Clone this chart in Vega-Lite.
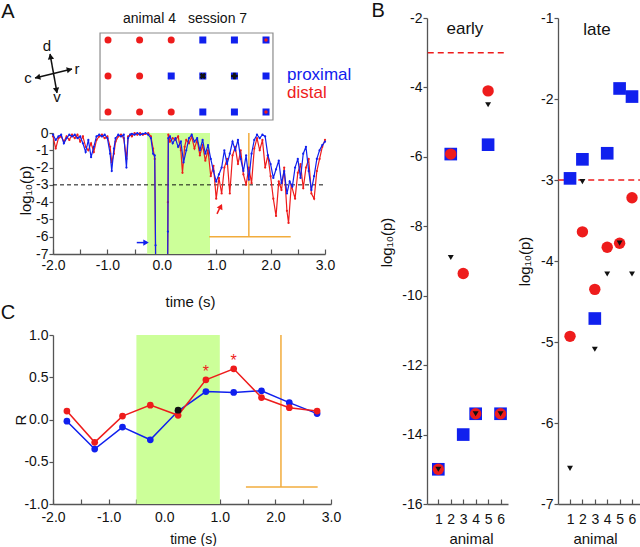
{
"$schema":"https://vega.github.io/schema/vega-lite/v6.json",
"padding":0,
"spacing":0,
"config":{"font":"Liberation Sans","view":{"stroke":null},
 "axis":{"labelFontSize":14,"titleFontSize":15,"titleFontWeight":"normal","domainColor":"#555","tickColor":"#555","labelColor":"#111","titleColor":"#111","grid":false,"domainWidth":1.3,"tickWidth":1.2,"labelFont":"Liberation Sans","titleFont":"Liberation Sans"},
 "text":{"font":"Liberation Sans"}},
"datasets":{
 "gridCircle":[{"x":1,"y":1},{"x":2,"y":1},{"x":3,"y":1},{"x":1,"y":2},{"x":2,"y":2},{"x":1,"y":3},{"x":2,"y":3},{"x":3,"y":3}],
 "gridSquare":[{"x":4,"y":1},{"x":5,"y":1},{"x":6,"y":1},{"x":3,"y":2},{"x":4,"y":2},{"x":5,"y":2},{"x":6,"y":2},{"x":4,"y":3},{"x":5,"y":3},{"x":6,"y":3}],
 "gridDot":[{"x":6,"y":1},{"x":6,"y":3}],
 "tsr":[{"t":-2.00,"v":-0.2},{"t":-1.95,"v":-0.9},{"t":-1.90,"v":-0.3},{"t":-1.85,"v":-0.2},{"t":-1.80,"v":-0.5},{"t":-1.75,"v":-0.2},{"t":-1.70,"v":-0.4},{"t":-1.65,"v":-0.1},{"t":-1.60,"v":-0.3},{"t":-1.55,"v":-0.1},{"t":-1.50,"v":-0.5},{"t":-1.45,"v":-0.2},{"t":-1.40,"v":-0.8},{"t":-1.35,"v":-1.0},{"t":-1.30,"v":-0.6},{"t":-1.25,"v":-1.1},{"t":-1.20,"v":-0.4},{"t":-1.15,"v":-0.2},{"t":-1.10,"v":-0.1},{"t":-1.05,"v":-0.3},{"t":-1.00,"v":-0.2},{"t":-0.95,"v":-0.8},{"t":-0.92,"v":-1.7},{"t":-0.88,"v":-1.2},{"t":-0.85,"v":-0.5},{"t":-0.80,"v":-0.2},{"t":-0.75,"v":-0.1},{"t":-0.70,"v":-0.3},{"t":-0.65,"v":-1.5},{"t":-0.62,"v":-0.2},{"t":-0.58,"v":-0.1},{"t":-0.55,"v":-0.2},{"t":-0.50,"v":0},{"t":-0.45,"v":-0.1},{"t":-0.40,"v":0},{"t":-0.35,"v":-0.1},{"t":-0.30,"v":-0.05},{"t":-0.25,"v":0},{"t":-0.20,"v":-0.2},{"t":-0.16,"v":-0.9},{"t":-0.13,"v":-1.5},{"t":-0.11,"v":-9},{"t":0.105,"v":-9},{"t":0.112,"v":-4.0},{"t":0.12,"v":-0.1},{"t":0.15,"v":-0.5},{"t":0.20,"v":-0.3},{"t":0.25,"v":-0.4},{"t":0.30,"v":-0.2},{"t":0.35,"v":-1.0},{"t":0.38,"v":-2.3},{"t":0.42,"v":-0.8},{"t":0.45,"v":-0.4},{"t":0.50,"v":-0.6},{"t":0.55,"v":-0.2},{"t":0.60,"v":-0.9},{"t":0.65,"v":-0.4},{"t":0.70,"v":-1.3},{"t":0.75,"v":-0.7},{"t":0.80,"v":-1.6},{"t":0.85,"v":-1.0},{"t":0.90,"v":-2.5},{"t":0.95,"v":-1.9},{"t":1.00,"v":-3.8},{"t":1.05,"v":-2.6},{"t":1.10,"v":-3.5},{"t":1.15,"v":-2.0},{"t":1.20,"v":-1.5},{"t":1.25,"v":-3.5},{"t":1.30,"v":-1.3},{"t":1.35,"v":-0.8},{"t":1.40,"v":-1.8},{"t":1.45,"v":-1.0},{"t":1.50,"v":-2.4},{"t":1.55,"v":-3.0},{"t":1.60,"v":-2.0},{"t":1.65,"v":-2.9},{"t":1.70,"v":-0.9},{"t":1.75,"v":-0.3},{"t":1.80,"v":-1.0},{"t":1.85,"v":-0.4},{"t":1.90,"v":-2.0},{"t":1.95,"v":-1.3},{"t":2.00,"v":-2.5},{"t":2.05,"v":-3.8},{"t":2.10,"v":-4.8},{"t":2.15,"v":-2.8},{"t":2.20,"v":-3.3},{"t":2.25,"v":-2.0},{"t":2.30,"v":-4.5},{"t":2.33,"v":-5.2},{"t":2.38,"v":-3.0},{"t":2.45,"v":-3.8},{"t":2.50,"v":-2.3},{"t":2.55,"v":-1.8},{"t":2.60,"v":-3.2},{"t":2.65,"v":-2.0},{"t":2.70,"v":-1.5},{"t":2.75,"v":-3.5},{"t":2.80,"v":-3.8},{"t":2.85,"v":-2.2},{"t":2.90,"v":-1.5},{"t":2.95,"v":-0.8},{"t":3.00,"v":-0.4}],
 "tsb":[{"t":-2.00,"v":-0.1},{"t":-1.95,"v":-0.4},{"t":-1.90,"v":-0.2},{"t":-1.85,"v":-0.1},{"t":-1.80,"v":-0.6},{"t":-1.75,"v":-0.3},{"t":-1.70,"v":-0.1},{"t":-1.65,"v":-0.2},{"t":-1.60,"v":-0.1},{"t":-1.55,"v":-0.3},{"t":-1.50,"v":-0.2},{"t":-1.45,"v":-0.6},{"t":-1.40,"v":-1.1},{"t":-1.35,"v":-0.4},{"t":-1.30,"v":-1.4},{"t":-1.25,"v":-0.8},{"t":-1.20,"v":-0.2},{"t":-1.15,"v":-0.1},{"t":-1.10,"v":-0.2},{"t":-1.05,"v":-0.1},{"t":-1.00,"v":-0.3},{"t":-0.95,"v":-1.2},{"t":-0.92,"v":-2.2},{"t":-0.88,"v":-0.9},{"t":-0.85,"v":-0.3},{"t":-0.80,"v":-0.1},{"t":-0.75,"v":-0.2},{"t":-0.70,"v":-0.1},{"t":-0.65,"v":-2.0},{"t":-0.62,"v":-0.3},{"t":-0.58,"v":-0.1},{"t":-0.55,"v":-0.05},{"t":-0.50,"v":-0.1},{"t":-0.45,"v":0},{"t":-0.40,"v":-0.1},{"t":-0.35,"v":-0.05},{"t":-0.30,"v":0},{"t":-0.25,"v":-0.1},{"t":-0.20,"v":-0.3},{"t":-0.16,"v":-1.2},{"t":-0.13,"v":-1.3},{"t":-0.115,"v":-6.5},{"t":-0.11,"v":-9},{"t":0.105,"v":-9},{"t":0.112,"v":-5.7},{"t":0.12,"v":-0.3},{"t":0.15,"v":-0.2},{"t":0.20,"v":-0.6},{"t":0.25,"v":-0.3},{"t":0.30,"v":-0.8},{"t":0.35,"v":-0.5},{"t":0.40,"v":-1.7},{"t":0.45,"v":-1.0},{"t":0.50,"v":-0.3},{"t":0.55,"v":-0.1},{"t":0.60,"v":-0.5},{"t":0.65,"v":-0.3},{"t":0.70,"v":-1.0},{"t":0.75,"v":-0.4},{"t":0.80,"v":-1.2},{"t":0.85,"v":-0.7},{"t":0.90,"v":-1.5},{"t":0.95,"v":-2.2},{"t":1.00,"v":-2.8},{"t":1.05,"v":-2.4},{"t":1.10,"v":-2.0},{"t":1.15,"v":-1.0},{"t":1.20,"v":-1.8},{"t":1.25,"v":-1.2},{"t":1.30,"v":-0.5},{"t":1.35,"v":-1.0},{"t":1.40,"v":-0.4},{"t":1.45,"v":-1.5},{"t":1.50,"v":-2.2},{"t":1.55,"v":-1.3},{"t":1.60,"v":-2.7},{"t":1.65,"v":-1.2},{"t":1.70,"v":-0.4},{"t":1.75,"v":-0.1},{"t":1.80,"v":-0.3},{"t":1.85,"v":-0.1},{"t":1.90,"v":-0.2},{"t":1.95,"v":-1.3},{"t":2.00,"v":-1.8},{"t":2.05,"v":-2.6},{"t":2.10,"v":-2.1},{"t":2.15,"v":-1.6},{"t":2.20,"v":-2.9},{"t":2.25,"v":-2.2},{"t":2.30,"v":-3.5},{"t":2.35,"v":-2.8},{"t":2.40,"v":-3.1},{"t":2.45,"v":-2.0},{"t":2.50,"v":-1.5},{"t":2.55,"v":-2.6},{"t":2.60,"v":-1.2},{"t":2.65,"v":-0.8},{"t":2.70,"v":-2.2},{"t":2.75,"v":-3.3},{"t":2.80,"v":-2.5},{"t":2.85,"v":-1.5},{"t":2.90,"v":-1.0},{"t":2.95,"v":-0.7},{"t":3.00,"v":-0.5}],
 "cRed":[{"t":-1.75,"R":0.1},{"t":-1.25,"R":-0.27},{"t":-0.75,"R":0.04},{"t":-0.25,"R":0.17},{"t":0.25,"R":0.05},{"t":0.75,"R":0.47},{"t":1.25,"R":0.6},{"t":1.75,"R":0.26},{"t":2.25,"R":0.14},{"t":2.75,"R":0.1}],
 "cBlue":[{"t":-1.75,"R":-0.02},{"t":-1.25,"R":-0.35},{"t":-0.75,"R":-0.09},{"t":-0.25,"R":-0.24},{"t":0.25,"R":0.1},{"t":0.75,"R":0.33},{"t":1.25,"R":0.32},{"t":1.75,"R":0.34},{"t":2.25,"R":0.2},{"t":2.75,"R":0.07}],
 "earlySq":[{"a":1,"v":-15},{"a":2,"v":-5.92},{"a":3,"v":-14.0},{"a":4,"v":-13.4},{"a":5,"v":-5.65},{"a":6,"v":-13.4}],
 "earlyCi":[{"a":1,"v":-15},{"a":2,"v":-5.92},{"a":3,"v":-9.36},{"a":4,"v":-13.4},{"a":5,"v":-4.1},{"a":6,"v":-13.4}],
 "earlyTr":[{"a":1,"v":-15},{"a":2,"v":-8.9},{"a":4,"v":-13.4},{"a":5,"v":-4.5},{"a":6,"v":-13.4}],
 "lateSq":[{"a":1,"v":-2.98},{"a":2,"v":-2.745},{"a":3,"v":-4.71},{"a":4,"v":-2.67},{"a":5,"v":-1.87},{"a":6,"v":-1.97}],
 "lateCi":[{"a":1,"v":-4.93},{"a":2,"v":-3.64},{"a":3,"v":-4.35},{"a":4,"v":-3.83},{"a":5,"v":-3.78},{"a":6,"v":-3.22}],
 "lateTr":[{"a":1,"v":-6.56},{"a":2,"v":-3.02},{"a":3,"v":-5.09},{"a":4,"v":-4.16},{"a":5,"v":-3.78},{"a":6,"v":-4.16}]
},
"hconcat":[
 {"vconcat":[
   {"width":272,"height":34,
    "encoding":{
     "x":{"field":"x","type":"quantitative","scale":{"domain":[-0.741,7.8666],"nice":false,"zero":false},"axis":null},
     "y":{"field":"y","type":"quantitative","scale":{"domain":[0.389,1.3334],"nice":false,"zero":false,"reverse":true},"axis":null}},
    "layer":[
     {"data":{"values":[{"x":-2.418,"y":-0.0833,"x2":-2.3,"y2":0.0},{"x":9.0,"y":0.389,"x2":9.13,"y2":0.5}]},"mark":{"type":"rect","opacity":0},"encoding":{"x2":{"field":"x2"},"y2":{"field":"y2"}}},
     {"data":{"values":[{"x":0.747,"x2":6.22,"y":0.806,"y2":3.222}]},"mark":{"type":"rect","fill":"transparent","stroke":"#8c8c8c","strokeWidth":1.2},"encoding":{"x2":{"field":"x2"},"y2":{"field":"y2"}}},
     {"data":{"name":"gridCircle"},"mark":{"type":"point","shape":"circle","filled":true,"size":49,"color":"#ee1c1c","opacity":1}},
     {"data":{"name":"gridSquare"},"mark":{"type":"point","shape":"square","filled":true,"size":49,"color":"#1020ee","opacity":1}},
     {"data":{"name":"gridDot"},"mark":{"type":"point","shape":"circle","filled":true,"size":12,"color":"#ee1c1c","opacity":1}},
     {"data":{"values":[{"x":4,"y":2}]},"mark":{"type":"point","shape":"cross","angle":45,"filled":true,"size":40,"color":"#111","opacity":1}},
     {"data":{"values":[{"x":5,"y":2}]},"mark":{"type":"point","shape":"cross","filled":true,"size":45,"color":"#111","opacity":1}},
     {"data":{"values":[{"x":-1.31,"y":2.056,"x2":-0.139,"y2":1.806},{"x":-0.835,"y":1.389,"x2":-0.614,"y2":2.472}]},"mark":{"type":"rule","color":"#111","strokeWidth":1.5},"encoding":{"x2":{"field":"x2"},"y2":{"field":"y2"}}},
     {"data":{"values":[{"x":-0.218,"y":1.822}]},"mark":{"type":"point","shape":"triangle-right","angle":-14,"filled":true,"size":40,"color":"#111","opacity":1}},
     {"data":{"values":[{"x":-1.231,"y":2.039}]},"mark":{"type":"point","shape":"triangle-left","angle":-14,"filled":true,"size":40,"color":"#111","opacity":1}},
     {"data":{"values":[{"x":-0.82,"y":1.458}]},"mark":{"type":"point","shape":"triangle-up","angle":-10,"filled":true,"size":40,"color":"#111","opacity":1}},
     {"data":{"values":[{"x":-0.63,"y":2.403}]},"mark":{"type":"point","shape":"triangle-down","angle":-10,"filled":true,"size":40,"color":"#111","opacity":1}},
     {"data":{"values":[{"x":-0.93,"y":1.167,"label":"d"},{"x":-1.532,"y":2.056,"label":"c"},{"x":0.019,"y":1.806,"label":"r"},{"x":-0.614,"y":2.583,"label":"v"}]},"mark":{"type":"text","fontSize":15,"baseline":"middle","align":"center","color":"#111"},"encoding":{"text":{"field":"label"}}},
     {"data":{"values":[{"x":1.475,"y":0.514,"label":"animal 4"},{"x":3.53,"y":0.514,"label":"session 7"}]},"mark":{"type":"text","fontSize":14,"baseline":"alphabetic","align":"left","color":"#111"},"encoding":{"text":{"field":"label"}}},
     {"data":{"values":[{"x":6.665,"y":2.111,"label":"proximal"},{"x":6.665,"y":2.611,"label":"distal"}]},"mark":{"type":"text","fontSize":17,"baseline":"alphabetic","align":"left"},"encoding":{"text":{"field":"label"},"color":{"field":"label","type":"nominal","scale":{"domain":["proximal","distal"],"range":["#1020ee","#ee1c1c"]},"legend":null}}},
     {"data":{"values":[{"x":-2.165,"y":0.389,"label":"A"}]},"mark":{"type":"text","fontSize":20,"baseline":"alphabetic","align":"center","color":"#111"},"encoding":{"text":{"field":"label"}}}
    ]},
   {"width":272,"height":121,
    "encoding":{
     "x":{"field":"t","type":"quantitative","scale":{"domain":[-2,3],"nice":false,"zero":false},
      "axis":{"values":[-2,-1.5,-1,-0.5,0,0.5,1,1.5,2,2.5,3],"labelExpr":"datum.value % 1 === 0 ? replace(format(datum.value, '.1f'), '−', '-') : ''","labelFlush":false,"labelOverlap":false,"tickSize":-5,"labelPadding":9,"title":"time (s)","titleX":137,"titleY":47,"titleAngle":0,"titleAlign":"center","titleBaseline":"middle"}},
     "y":{"field":"v","type":"quantitative","scale":{"domain":[-7,0],"nice":false,"zero":false},
      "axis":{"values":[-7,-6,-5,-4,-3,-2,-1,0],"labelExpr":"'' + datum.value","tickSize":4,"labelPadding":1,"title":"log₁₀(p)","titleX":-28,"titleY":57,"titleAngle":270,"titleAlign":"center","titleBaseline":"middle"}}},
    "layer":[
     {"data":{"values":[{"t":-0.27,"t2":0.886,"v":-7,"v2":0}]},"mark":{"type":"rect","color":"#ccff99"},"encoding":{"x2":{"field":"t2"},"y2":{"field":"v2"}}},
     {"data":{"values":[{"t":-2,"t2":3,"v":-3}]},"mark":{"type":"rule","color":"#111","strokeWidth":1,"strokeDash":[4,3]},"encoding":{"x2":{"field":"t2"}}},
     {"data":{"values":[{"t":1.6,"t2":1.6,"v":0,"v2":-6},{"t":0.87,"t2":2.37,"v":-6,"v2":-6}]},"mark":{"type":"rule","color":"#f2ac3c","strokeWidth":1.5},"encoding":{"x2":{"field":"t2"},"y2":{"field":"v2"}}},
     {"data":{"name":"tsr"},"mark":{"type":"line","color":"#ee1c1c","strokeWidth":1.2,"clip":true}},
     {"data":{"name":"tsr"},"transform":[{"filter":"datum.v > -8"}],"mark":{"type":"point","shape":"circle","filled":true,"size":5,"color":"#ee1c1c","opacity":1}},
     {"data":{"name":"tsb"},"mark":{"type":"line","color":"#1020ee","strokeWidth":1.2,"clip":true}},
     {"data":{"name":"tsb"},"transform":[{"filter":"datum.v > -8"}],"mark":{"type":"point","shape":"circle","filled":true,"size":5,"color":"#1020ee","opacity":1}},
     {"data":{"values":[{"t":-0.46,"v":-6.34,"t2":-0.27,"v2":-6.34}]},"mark":{"type":"rule","color":"#1020ee","strokeWidth":1.5},"encoding":{"x2":{"field":"t2"},"y2":{"field":"v2"}}},
     {"data":{"values":[{"t":-0.29,"v":-6.34}]},"mark":{"type":"point","shape":"triangle-right","filled":true,"size":40,"color":"#1020ee","opacity":1}},
     {"data":{"values":[{"t":1.015,"v":-4.68,"t2":1.085,"v2":-4.2}]},"mark":{"type":"rule","color":"#ee1c1c","strokeWidth":1.5},"encoding":{"x2":{"field":"t2"},"y2":{"field":"v2"}}},
     {"data":{"values":[{"t":1.085,"v":-4.25}]},"mark":{"type":"point","shape":"triangle-up","angle":26,"filled":true,"size":40,"color":"#ee1c1c","opacity":1}}
    ]},
  {"width":278,"height":169,
   "encoding":{
    "x":{"field":"t","type":"quantitative","scale":{"domain":[-2,3],"nice":false,"zero":false},
     "axis":{"values":[-2,-1.5,-1,-0.5,0,0.5,1,1.5,2,2.5,3],"labelExpr":"datum.value % 1 === 0 ? replace(format(datum.value, '.1f'), '−', '-') : ''","labelFlush":false,"labelOverlap":false,"tickSize":-5,"labelPadding":11,"title":"time (s)","titleFontSize":14,"titleX":140,"titleY":35,"titleAngle":0,"titleAlign":"center","titleBaseline":"middle"}},
    "y":{"field":"R","type":"quantitative","scale":{"domain":[-1,1],"nice":false,"zero":false},
     "axis":{"values":[-1,-0.5,0,0.5,1],"labelExpr":"replace(format(datum.value, '.1f'), '−', '-')","tickSize":4,"labelPadding":1,"title":"R","titleX":-33,"titleY":84.5,"titleAngle":270,"titleAlign":"center","titleBaseline":"middle"}}},
   "layer":[
    {"data":{"values":[{"t":-0.5,"t2":1.0,"R":-1,"R2":1}]},"mark":{"type":"rect","color":"#ccff99"},"encoding":{"x2":{"field":"t2"},"y2":{"field":"R2"}}},
    {"data":{"values":[{"t":2.1,"t2":2.1,"R":1,"R2":-0.8},{"t":1.47,"t2":2.76,"R":-0.8,"R2":-0.8}]},"mark":{"type":"rule","color":"#f2ac3c","strokeWidth":1.5},"encoding":{"x2":{"field":"t2"},"y2":{"field":"R2"}}},
    {"data":{"name":"cBlue"},"mark":{"type":"line","color":"#1020ee","strokeWidth":1.5,"point":{"filled":true,"size":45,"color":"#1020ee","opacity":1}}},
    {"data":{"name":"cRed"},"mark":{"type":"line","color":"#ee1c1c","strokeWidth":1.5,"point":{"filled":true,"size":45,"color":"#ee1c1c","opacity":1}}},
    {"data":{"values":[{"t":0.25,"R":0.11}]},"mark":{"type":"point","shape":"circle","filled":true,"size":45,"color":"#111","opacity":1}},
    {"data":{"values":[{"t":0.75,"R":0.6},{"t":1.25,"R":0.73}]},"mark":{"type":"text","text":"*","fontSize":16,"baseline":"middle","align":"center","dy":3,"color":"#ee1c1c"}},
    {"data":{"values":[{"t":-2.81,"R":1.26,"label":"C"}]},"mark":{"type":"text","fontSize":20,"baseline":"middle","align":"center","color":"#111"},"encoding":{"text":{"field":"label"}}}
   ]}
 ],"spacing":81,"bounds":"flush"},
 {"width":81,"height":486,
  "encoding":{
   "x":{"field":"a","type":"quantitative","scale":{"domain":[0.09,6.6],"nice":false,"zero":false},
    "axis":{"values":[1,2,3,4,5,6],"labelFlush":false,"labelOverlap":false,"tickSize":-5,"labelPadding":13,"title":"animal","titleX":44,"titleY":34,"titleAngle":0,"titleAlign":"center","titleBaseline":"middle"}},
   "y":{"field":"v","type":"quantitative","scale":{"domain":[-16,-2],"nice":false,"zero":false},
    "axis":{"values":[-16,-14,-12,-10,-8,-6,-4,-2],"labelExpr":"'' + datum.value","tickSize":4,"labelPadding":1,"title":"log₁₀(p)","titleX":-41,"titleY":224,"titleAngle":270,"titleAlign":"center","titleBaseline":"middle"}}},
  "layer":[
   {"data":{"values":[{"a":-4.892,"a2":-4.5,"v":-8,"v2":-8.2},{"a":6.95,"a2":7.0,"v":-8,"v2":-8.2}]},"mark":{"type":"rect","opacity":0},"encoding":{"x2":{"field":"a2"},"y2":{"field":"v2"}}},
   {"data":{"values":[{"a":0.15,"a2":6.55,"v":-3}]},"mark":{"type":"rule","color":"#ee1c1c","strokeWidth":1.5,"strokeDash":[6,4]},"encoding":{"x2":{"field":"a2"}}},
   {"data":{"name":"earlySq"},"mark":{"type":"point","shape":"square","filled":true,"size":160,"color":"#1020ee","opacity":1}},
   {"data":{"name":"earlyCi"},"mark":{"type":"point","shape":"circle","filled":true,"size":130,"color":"#ee1c1c","opacity":1}},
   {"data":{"name":"earlyTr"},"mark":{"type":"point","shape":"triangle-down","filled":true,"size":35,"color":"#111","opacity":1}},
   {"data":{"values":[{"a":3.14,"v":-2.46,"label":"early"}]},"mark":{"type":"text","fontSize":17,"baseline":"alphabetic","align":"center","color":"#111"},"encoding":{"text":{"field":"label"}}},
   {"data":{"values":[{"a":-3.84,"v":-1.971,"label":"B"}]},"mark":{"type":"text","fontSize":20,"baseline":"alphabetic","align":"center","color":"#111"},"encoding":{"text":{"field":"label"}}}
  ]},
 {"width":82,"height":486,
  "encoding":{
   "x":{"field":"a","type":"quantitative","scale":{"domain":[0.03,6.645],"nice":false,"zero":false},
    "axis":{"values":[1,2,3,4,5,6],"labelFlush":false,"labelOverlap":false,"tickSize":-5,"labelPadding":13,"title":"animal","titleX":37,"titleY":34,"titleAngle":0,"titleAlign":"center","titleBaseline":"middle"}},
   "y":{"field":"v","type":"quantitative","scale":{"domain":[-7,-1],"nice":false,"zero":false},
    "axis":{"values":[-7,-6,-5,-4,-3,-2,-1],"labelExpr":"'' + datum.value","tickSize":4,"labelPadding":1,"title":"log₁₀(p)","titleX":-34,"titleY":243,"titleAngle":270,"titleAlign":"center","titleBaseline":"middle"}}},
  "layer":[
   {"data":{"values":[{"a":-3.599,"a2":-3.3,"v":-4,"v2":-4.05}]},"mark":{"type":"rect","opacity":0},"encoding":{"x2":{"field":"a2"},"y2":{"field":"v2"}}},
   {"data":{"values":[{"a":0.05,"a2":6.64,"v":-3}]},"mark":{"type":"rule","color":"#ee1c1c","strokeWidth":1.5,"strokeDash":[6,4]},"encoding":{"x2":{"field":"a2"}}},
   {"data":{"name":"lateSq"},"mark":{"type":"point","shape":"square","filled":true,"size":160,"color":"#1020ee","opacity":1}},
   {"data":{"name":"lateCi"},"mark":{"type":"point","shape":"circle","filled":true,"size":130,"color":"#ee1c1c","opacity":1}},
   {"data":{"name":"lateTr"},"mark":{"type":"point","shape":"triangle-down","filled":true,"size":35,"color":"#111","opacity":1}},
   {"data":{"values":[{"a":3.18,"v":-1.21,"label":"late"}]},"mark":{"type":"text","fontSize":17,"baseline":"alphabetic","align":"center","color":"#111"},"encoding":{"text":{"field":"label"}}}
  ]}
]
}
